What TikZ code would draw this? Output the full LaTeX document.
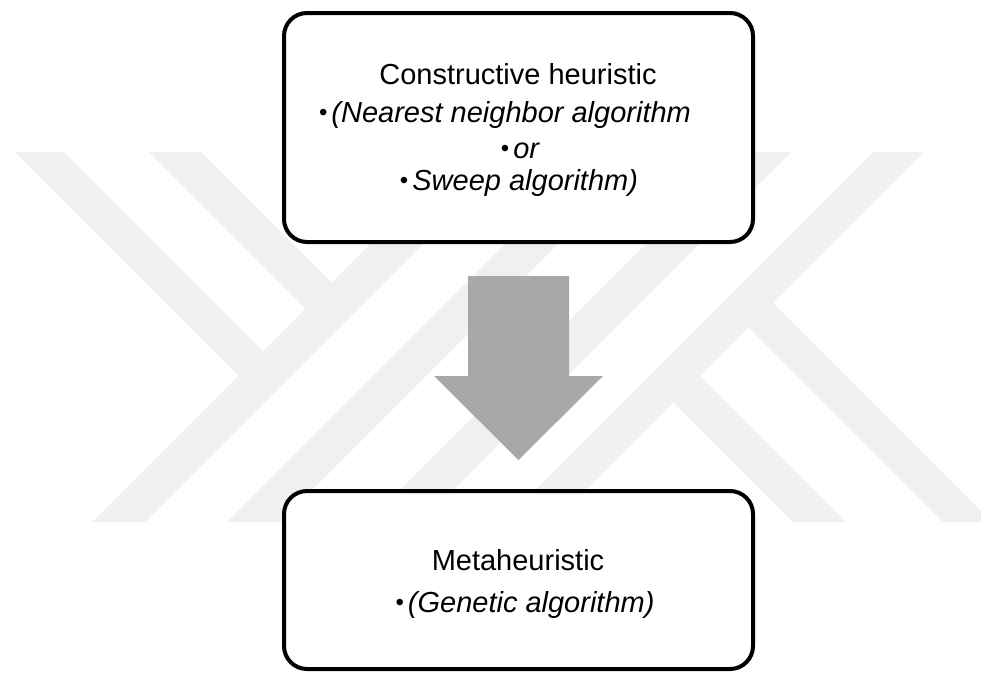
\documentclass[tikz,border=0pt]{standalone}
\usepackage{fontspec}
\setmainfont{Liberation Sans}
\definecolor{wmgray}{RGB}{240,240,240}
\definecolor{arrowgray}{RGB}{168,168,168}
\tikzset{
  stagebox/.style={draw=black, line width=4pt, rounded corners=23pt, fill=white,
                   minimum width=469pt, inner sep=0pt},
  heading/.style={anchor=base, inner sep=0pt, font=\fontsize{29}{34}\selectfont},
  bulletline/.style={anchor=base, inner sep=0pt, font=\fontsize{29}{34}\selectfont\itshape},
  band/.style={fill=wmgray},
}
\newcommand{\bul}{\raisebox{1.5pt}{\upshape\fontsize{24}{24}\selectfont\textbullet}\hspace{4pt}}
\begin{document}
\begin{tikzpicture}[x=1pt,y=-1pt]
\useasboundingbox (0,0) rectangle (981,673);
\begin{scope}
  \clip (0,0) rectangle (981,673);
  % background emblem: diagonal bands
  \fill[band] (15,152) -- (64,152) -- (276,364) -- (238.5,375.5) -- cycle;
  \fill[band] (149,152) -- (201,152) -- (344.5,295.5) -- (318.5,321.5) -- cycle;
  \fill[band] (92,522) -- (145,522) -- (515,152) -- (462,152) -- cycle;
  \fill[band] (227,522) -- (280,522) -- (650,152) -- (597,152) -- cycle;
  \fill[band] (368,522) -- (421,522) -- (791,152) -- (738,152) -- cycle;
  \fill[band] (503,522) -- (554,522) -- (924,152) -- (873,152) -- cycle;
  \fill[band] (660.5,389.5) -- (687,363) -- (846,522) -- (793,522) -- cycle;
  \fill[band] (735.5,314.5) -- (760,290) -- (992,522) -- (943,522) -- cycle;
\end{scope}

% stage boxes
\node[stagebox, minimum height=229pt] (construct) at (518.5,127.5) {};
\node[stagebox, minimum height=178pt] (meta) at (518.5,580) {};

% block arrow between the stages
\coordinate (arrtop) at (518.5,276);
\coordinate (arrtip) at (518.5,460);
\fill[arrowgray] ([xshift=-50.5pt]arrtop) -- ([xshift=50.5pt]arrtop)
  -- ([xshift=50.5pt,yshift=-100pt]arrtop) -- ([xshift=84.5pt,yshift=-100pt]arrtop)
  -- (arrtip)
  -- ([xshift=-84.5pt,yshift=-100pt]arrtop) -- ([xshift=-50.5pt,yshift=-100pt]arrtop)
  -- cycle;

% texts
\node[heading] (c1) at (518,84) {Constructive heuristic};
\node[bulletline] (c2) at (505,122) {\bul(Nearest neighbor algorithm};
\node[bulletline] (c3) at (520,158) {\bul or};
\node[bulletline] (c4) at (519,190) {\bul Sweep algorithm)};
\node[heading] (m1) at (518,570) {Metaheuristic};
\node[bulletline] (m2) at (525,612) {\bul(Genetic algorithm)};
\end{tikzpicture}
\end{document}
